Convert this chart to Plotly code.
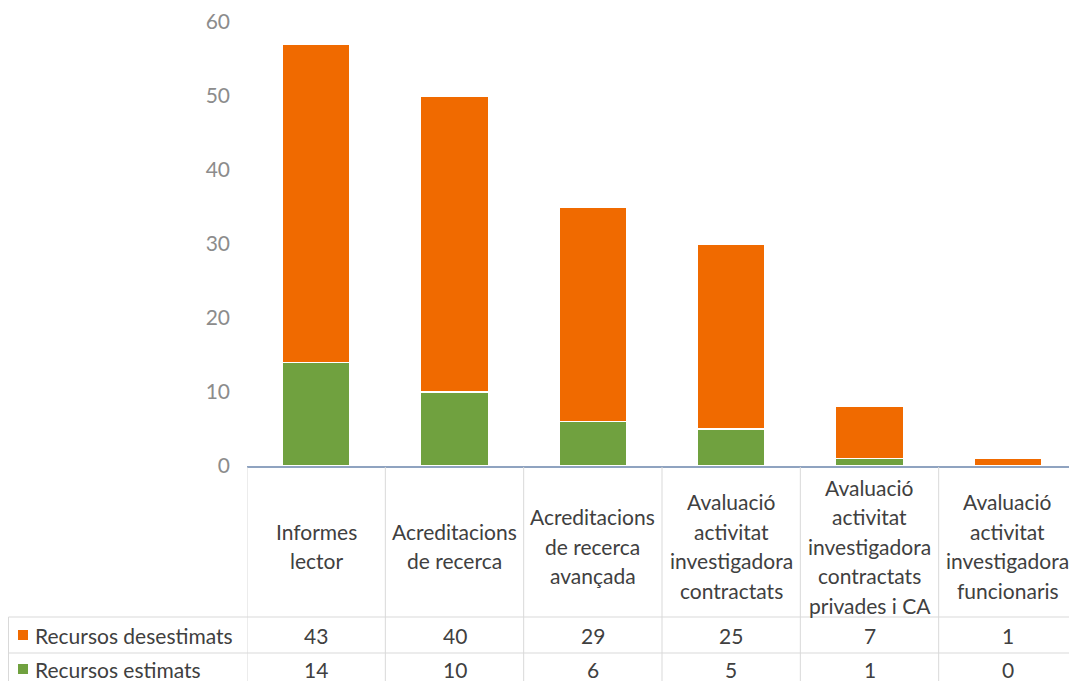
import plotly.graph_objects as go

categories = [
    "Informes\nlector",
    "Acreditacions\nde recerca",
    "Acreditacions\nde recerca\navançada",
    "Avaluació\nactivitat\ninvestigadora\ncontractats",
    "Avaluació\nactivitat\ninvestigadora\ncontractats\nprivades i CA",
    "Avaluació\nactivitat\ninvestigadora\nfuncionaris",
]
series_names = ["Recursos desestimats", "Recursos estimats"]
desestimats = [43, 40, 29, 25, 7, 1]
estimats = [14, 10, 6, 5, 1, 0]
y_ticks = [0, 10, 20, 30, 40, 50, 60]

ORANGE = "#F06A00"
GREEN = "#70A13F"
W, H = 1077, 681
OFF = 8  # page margin of the host document
FONT = "Lato"
TXT = "#404040"
GRID = "#D9D9D9"
FS = 21

def py(px):
    return 1 - (px - OFF) / H

def pxx(px):
    return (px - OFF) / W

x = list(range(len(categories)))

fig = go.Figure()
fig.add_trace(go.Bar(x=x, y=estimats, name=series_names[1], marker_color=GREEN,
                     marker_line_color="white", marker_line_width=1.2, width=0.49))
fig.add_trace(go.Bar(x=x, y=desestimats, name=series_names[0], marker_color=ORANGE,
                     marker_line_color="white", marker_line_width=1.2, width=0.49))

shapes = []
annotations = []
for i in range(len(categories) + 1):
    shapes.append(dict(type="line", xref="x", yref="paper", x0=i - 0.5, x1=i - 0.5,
                       y0=py(467), y1=0, line=dict(color=GRID, width=1)))
for yy in (617, 653):
    shapes.append(dict(type="line", xref="paper", yref="paper", x0=pxx(8.5), x1=1,
                       y0=py(yy), y1=py(yy), line=dict(color=GRID, width=1)))
shapes.append(dict(type="line", xref="paper", yref="paper", x0=pxx(8.5), x1=pxx(8.5),
                   y0=py(617), y1=0, line=dict(color=GRID, width=1)))

LS = 29.5
for i, cat in enumerate(categories):
    lines = cat.split("\n")
    n = len(lines)
    for k, ln in enumerate(lines):
        yc = 546 + (k - (n - 1) / 2) * LS
        annotations.append(dict(xref="x", yref="paper", x=i, y=py(yc), text=ln,
                                showarrow=False, xanchor="center", yanchor="middle",
                                font=dict(family=FONT, size=FS, color=TXT)))

rows = [(series_names[0], desestimats, ORANGE, 635), (series_names[1], estimats, GREEN, 669)]
for name, vals, col, yc in rows:
    shapes.append(dict(type="rect", xref="paper", yref="paper", x0=pxx(18), x1=pxx(28),
                       y0=py(yc + 5), y1=py(yc - 5), fillcolor=col, line=dict(width=0)))
    annotations.append(dict(xref="paper", yref="paper", x=pxx(33), y=py(yc), text=name,
                            showarrow=False, xanchor="left", yanchor="middle",
                            font=dict(family=FONT, size=FS, color=TXT)))
    for i, v in enumerate(vals):
        annotations.append(dict(xref="x", yref="paper", x=i, y=py(yc), text=str(v),
                                showarrow=False, xanchor="center", yanchor="middle",
                                font=dict(family=FONT, size=FS, color=TXT)))

fig.update_layout(
    width=W, height=H, barmode="stack", showlegend=False,
    margin=dict(l=0, r=0, t=0, b=0, pad=0, autoexpand=False),
    plot_bgcolor="white", paper_bgcolor="white",
    shapes=shapes, annotations=annotations,
    xaxis=dict(domain=[pxx(247), pxx(1077)], range=[-0.5, len(categories) - 0.5],
               showticklabels=False, showgrid=False, zeroline=False, ticks="",
               showline=True, linecolor="#8FA3C0", linewidth=1.5, fixedrange=True,
               automargin=False),
    yaxis=dict(domain=[py(466), py(22)], range=[0, 60], tickvals=y_ticks,
               showgrid=False, zeroline=False, ticks="", showline=False,
               tickfont=dict(family=FONT, size=FS, color="#8C8C8C"),
               ticklabelstandoff=16, fixedrange=True, automargin=False),
)

fig.write_html("out.html")
